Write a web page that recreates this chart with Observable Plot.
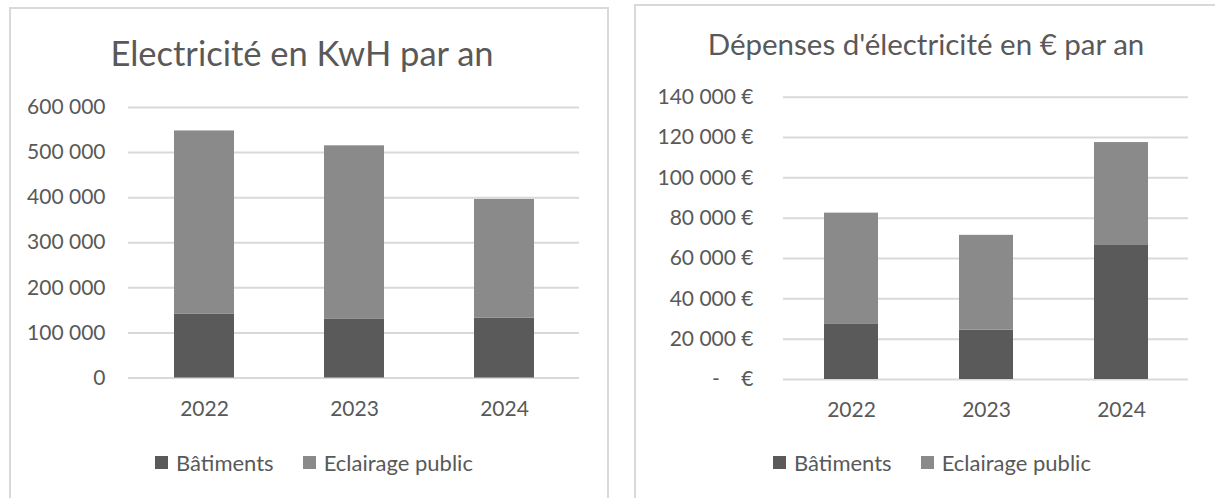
<!DOCTYPE html>
<html><head><meta charset="utf-8">
<script src="https://cdn.jsdelivr.net/npm/d3@7"></script>
<script src="https://cdn.jsdelivr.net/npm/@observablehq/plot@0.6"></script>
<style>
body{margin:0;background:#fff;overflow:hidden;font-family:Lato,sans-serif;color:#595959}
#root{position:relative;width:1215px;height:498px;overflow:hidden;background:#fff}
.panel{position:absolute;border:2px solid #d9d9d9;box-sizing:border-box;background:#fff}
.title{position:absolute;white-space:nowrap;transform:translateX(-50%);color:#595959;line-height:1;font-family:Lato,sans-serif}
.chart{position:absolute}
.leg{position:absolute}
#root .lg-swatches{margin:0;min-height:0;font-family:Lato,sans-serif;font-size:22px;color:#595959;flex-wrap:nowrap}
#root .lg-swatch{margin-right:29px}
#root .lg-swatch > svg{margin-right:8px}
</style></head><body><div id="root"></div>
<script>
const years = ["2022", "2023", "2024"];
const series = ["Bâtiments", "Eclairage public"];
const kwhBatiments = [142000, 130000, 133000];
const kwhEclairage = [406000, 385000, 263000];
const eurBatiments = [27600, 24500, 66800];
const eurEclairage = [54900, 47000, 50700];
const kwhTicks = [0, 100000, 200000, 300000, 400000, 500000, 600000];
const kwhTickLabels = ["0", "100 000", "200 000", "300 000", "400 000", "500 000", "600 000"];
const eurTicks = [0, 20000, 40000, 60000, 80000, 100000, 120000, 140000];
const eurTickLabels = ["-\u00a0\u00a0\u00a0\u00a0€", "20 000 €", "40 000 €", "60 000 €", "80 000 €", "100 000 €", "120 000 €", "140 000 €"];
const kwhTitle = "Electricité en KwH par an";
const eurTitle = "Dépenses d'électricité en € par an";
const colors = ["#5a5a5a", "#8a8a8a"];

const root = document.getElementById("root");
function el(cls, css, text) {
  const d = document.createElement("div");
  d.className = cls;
  Object.assign(d.style, css);
  if (text != null) d.textContent = text;
  root.appendChild(d);
  return d;
}
function rowsOf(a, b) {
  return years.flatMap((y, i) => [
    {year: y, series: series[0], value: a[i]},
    {year: y, series: series[1], value: b[i]}
  ]);
}
function chart(o) {
  return Plot.plot({
    width: o.width, height: o.height,
    marginLeft: o.ml, marginRight: o.mr, marginTop: o.mt, marginBottom: o.mb,
    style: {fontFamily: "Lato, sans-serif", fontSize: "21px", color: "#595959", background: "transparent", overflow: "visible"},
    x: {domain: years, paddingInner: 0.6, paddingOuter: 0.3, axis: null},
    y: {domain: o.domain, axis: null},
    color: {domain: series, range: colors},
    marks: [
      Plot.gridY(o.ticks, {stroke: "#d9d9d9", strokeOpacity: 1, strokeWidth: 2}),
      Plot.barY(o.rows, {x: "year", y: "value", fill: "series"}),
      Plot.axisY(o.ticks, {tickSize: 0, tickPadding: o.ytp, label: null, fontSize: 21,
        tickFormat: d => o.labels[o.ticks.indexOf(d)]}),
      Plot.axisX({tickSize: 0, tickPadding: 23, label: null, fontSize: 21})
    ]
  });
}
function legend(left, top) {
  const lg = Plot.legend({color: {domain: series, range: colors}, swatchSize: 13, className: "lg"});
  const d = el("leg", {left: left + "px", top: top + "px"});
  d.appendChild(lg);
}

// panels
el("panel", {left: "9px", top: "7px", width: "600px", height: "600px"});
el("panel", {left: "634px", top: "4px", width: "700px", height: "600px"});

// left chart
el("title", {left: "302px", top: "36px", fontSize: "34.5px"}, kwhTitle);
const c1 = chart({width: 607, height: 340, ml: 128, mr: 28, mt: 17, mb: 52.5,
  domain: [0, 600000], ticks: kwhTicks, labels: kwhTickLabels, ytp: 23,
  rows: rowsOf(kwhBatiments, kwhEclairage)});
const w1 = el("chart", {left: "0px", top: "90px"}); w1.appendChild(c1);
legend(155, 449);

// right chart
el("title", {left: "926px", top: "29px", fontSize: "29.5px"}, eurTitle);
const c2 = chart({width: 585, height: 350, ml: 153, mr: 27, mt: 16.7, mb: 51,
  domain: [0, 140000], ticks: eurTicks, labels: eurTickLabels, ytp: 30,
  rows: rowsOf(eurBatiments, eurEclairage)});
const w2 = el("chart", {left: "630px", top: "80px"}); w2.appendChild(c2);
legend(773, 449);
</script></body></html>
